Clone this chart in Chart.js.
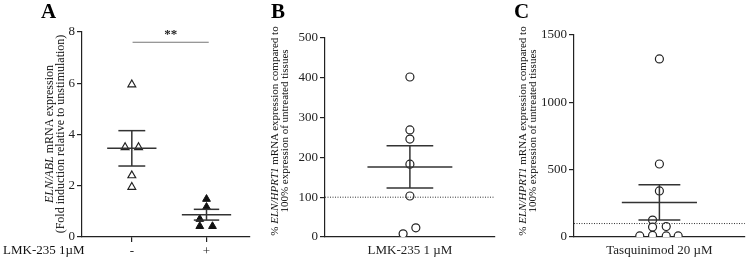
<!DOCTYPE html>
<html>
<head>
<meta charset="utf-8">
<script src="https://cdn.jsdelivr.net/npm/chart.js@4.4.0/dist/chart.umd.min.js"></script>
<style>
  body { margin: 0; background: #fff; font-family: "Liberation Serif", "DejaVu Serif", serif; }
  #wrap { position: relative; width: 750px; height: 263px; overflow: hidden; }
  canvas { position: absolute; top: 0; }
  .letter { position: absolute; font-weight: bold; font-size: 21px; line-height: 20px; }
  .ytitle { position: absolute; width: 240px; text-align: center; font-size: 11px; line-height: 10px;
            transform: translate(-50%, -50%) rotate(-90deg); color: #111; white-space: nowrap; }
  .lbl { position: absolute; font-size: 13px; line-height: 13px; color: #111; white-space: nowrap; }
</style>
</head>
<body>
<div id="wrap">
  <canvas id="cA" width="255" height="263" style="left:0px"></canvas>
  <canvas id="cB" width="250" height="263" style="left:250px"></canvas>
  <canvas id="cC" width="250" height="263" style="left:500px"></canvas>

  <div class="letter" style="left:41px;top:1px">A</div>
  <div class="letter" style="left:271px;top:1px">B</div>
  <div class="letter" style="left:514px;top:1px">C</div>

  <div class="ytitle" style="left:55px;top:134px;font-size:12px;line-height:11px"><i>ELN/ABL</i> mRNA expression<br>(Fold induction relative to unstimulation)</div>
  <div class="ytitle" style="left:279px;top:131px">% <i>ELN/HPRT1</i> mRNA expression compared to<br>100% expression of untreated tissues</div>
  <div class="ytitle" style="left:527px;top:131px">% <i>ELN/HPRT1</i> mRNA expression compared to<br>100% expression of untreated tissues</div>

  <div class="lbl" style="left:3px;top:243px">LMK-235 1µM</div>
</div>
<script>
// Panel A: ELN/ABL fold induction, without (-) and with (+) LMK-235
const catsA = ['-', '+'];
const a0Vals = [5.95, 3.5, 3.5, 2.4, 1.95];
const a0X = [0, -0.09, 0.09, 0, 0];
const a1Vals = [1.48, 1.17, 0.7, 0.42, 0.42];
const a1X = [0, 0, -0.09, -0.09, 0.08];
const meanA = [3.46, 0.87];
const semA = [0.69, 0.21];
const yTicksA = [0, 2, 4, 6, 8];

// Panel B: LMK-235 1 µM
const catsB = ['LMK-235 1 µM'];
const bVals = [402, 269, 246, 183, 103, 23, 8];
const bX = [0, 0, 0, 0, 0, 0.07, -0.08];
const meanB = [176];
const semB = [53];
const yTicksB = [0, 100, 200, 300, 400, 500];

// Panel C: Tasquinimod 20 µM
const catsC = ['Tasquinimod 20 µM'];
const cVals = [1322, 542, 342, 126, 74, 78, 8, 12, 8, 8];
const cX = [0, 0, 0, -0.08, -0.08, 0.08, -0.23, -0.08, 0.08, 0.22];
const meanC = [257];
const semC = [131];
const yTicksC = [0, 500, 1000, 1500];

const FONT = "'Liberation Serif', 'Times New Roman', serif";
const INK = '#222';

function pts(vals, xs, cat) {
  return vals.map((v, i) => ({ x: cat + xs[i], y: v }));
}

// mean ± SEM bars, dotted reference line, significance bracket
const overlay = {
  id: 'overlay',
  afterDatasetsDraw(chart, args, o) {
    const { ctx, chartArea } = chart;
    const xs = chart.scales.x, ys = chart.scales.y;
    ctx.save();
    ctx.strokeStyle = '#333';
    ctx.lineWidth = 1.5;
    o.mean.forEach((m, i) => {
      const cx = i;
      const hline = (y, hw) => {
        ctx.beginPath();
        ctx.moveTo(xs.getPixelForValue(cx - hw), ys.getPixelForValue(y));
        ctx.lineTo(xs.getPixelForValue(cx + hw), ys.getPixelForValue(y));
        ctx.stroke();
      };
      hline(m, o.meanW[i]);
      hline(m + o.sem[i], o.capW[i]);
      hline(m - o.sem[i], o.capW[i]);
      ctx.beginPath();
      ctx.moveTo(xs.getPixelForValue(cx), ys.getPixelForValue(m + o.sem[i]));
      ctx.lineTo(xs.getPixelForValue(cx), ys.getPixelForValue(m - o.sem[i]));
      ctx.stroke();
    });
    if (o.ref != null) {
      ctx.strokeStyle = '#333';
      ctx.lineWidth = 1;
      ctx.setLineDash([1, 1.5]);
      const y = ys.getPixelForValue(o.ref);
      ctx.beginPath();
      ctx.moveTo(chartArea.left, y);
      ctx.lineTo(chartArea.right, y);
      ctx.stroke();
      ctx.setLineDash([]);
    }
    if (o.sig) {
      const y = ys.getPixelForValue(o.sig.y);
      ctx.strokeStyle = '#777';
      ctx.lineWidth = 1;
      ctx.beginPath();
      ctx.moveTo(xs.getPixelForValue(o.sig.from), y);
      ctx.lineTo(xs.getPixelForValue(o.sig.to), y);
      ctx.stroke();
      ctx.fillStyle = '#222';
      ctx.font = 'bold 13px ' + FONT;
      ctx.textAlign = 'center';
      ctx.textBaseline = 'bottom';
      ctx.fillText(o.sig.text, (xs.getPixelForValue(o.sig.from) + xs.getPixelForValue(o.sig.to)) / 2, y - 1);
    }
    ctx.restore();
  },
};

function makeChart(id, cfg) {
  const xTicks = cfg.cats.map((_, i) => i);
  return new Chart(document.getElementById(id), {
    type: 'scatter',
    data: { datasets: cfg.datasets },
    options: {
      responsive: false,
      animation: false,
      layout: { padding: cfg.padding },
      plugins: { legend: { display: false }, tooltip: { enabled: false }, overlay: cfg.overlay },
      scales: {
        x: {
          type: 'linear',
          min: cfg.xMin, max: cfg.xMax,
          afterBuildTicks: s => { s.ticks = xTicks.map(v => ({ value: v })); },
          afterFit: s => { s.height = 26; },
          ticks: {
            callback: v => cfg.cats[v],
            color: INK, font: { family: FONT, size: 13 }, padding: cfg.xTickLen ? 2 : 6, maxRotation: 0,
          },
          grid: { drawOnChartArea: false, drawTicks: !!cfg.xTickLen, tickLength: cfg.xTickLen || 0, color: INK, lineWidth: 1.2 },
          border: { color: INK, width: 1.2 },
        },
        y: {
          min: cfg.yTicks[0], max: cfg.yTicks[cfg.yTicks.length - 1],
          afterBuildTicks: s => { s.ticks = cfg.yTicks.map(v => ({ value: v })); },
          afterFit: s => { s.width = cfg.yWidth; },
          ticks: { color: INK, font: { family: FONT, size: 13 }, padding: 2, callback: v => String(v) },
          grid: { drawOnChartArea: false, tickLength: 5, color: INK, lineWidth: 1.2 },
          border: { color: INK, width: 1.2 },
        },
      },
    },
    plugins: [overlay],
  });
}

const openStyle = (shape) => ({
  pointStyle: shape, pointRadius: shape === 'triangle' ? 4.5 : 4,
  backgroundColor: '#fff', borderColor: '#222', borderWidth: 1.2,
});
const filledStyle = (shape) => ({
  pointStyle: shape, pointRadius: 4.5,
  backgroundColor: '#111', borderColor: '#111', borderWidth: 1,
});

makeChart('cA', {
  cats: catsA, yTicks: yTicksA, xMin: -0.667, xMax: 1.573, yWidth: 82, xTickLen: 5,
  padding: { top: 32, right: 5, bottom: 0, left: 0 },
  datasets: [
    { data: pts(a0Vals, a0X, 0), ...openStyle('triangle') },
    { data: pts(a1Vals, a1X, 1), ...filledStyle('triangle') },
  ],
  overlay: { mean: meanA, sem: semA, meanW: [0.33, 0.33], capW: [0.18, 0.17], sig: { y: 7.6, from: 0.01, to: 1.03, text: '**' } },
});

makeChart('cB', {
  cats: catsB, yTicks: yTicksB, xMin: -1, xMax: 1, yWidth: 75, xTickLen: 0,
  padding: { top: 38, right: 4, bottom: 0, left: 0 },
  datasets: [{ data: pts(bVals, bX, 0), ...openStyle('circle') }],
  overlay: { mean: meanB, sem: semB, meanW: [0.5], capW: [0.275], ref: 100 },
});

makeChart('cC', {
  cats: catsC, yTicks: yTicksC, xMin: -1, xMax: 1, yWidth: 74, xTickLen: 0,
  padding: { top: 35, right: 1, bottom: 0, left: 0 },
  datasets: [{ data: pts(cVals, cX, 0), ...openStyle('circle') }],
  overlay: { mean: meanC, sem: semC, meanW: [0.44], capW: [0.245], ref: 100 },
});
</script>
</body>
</html>
